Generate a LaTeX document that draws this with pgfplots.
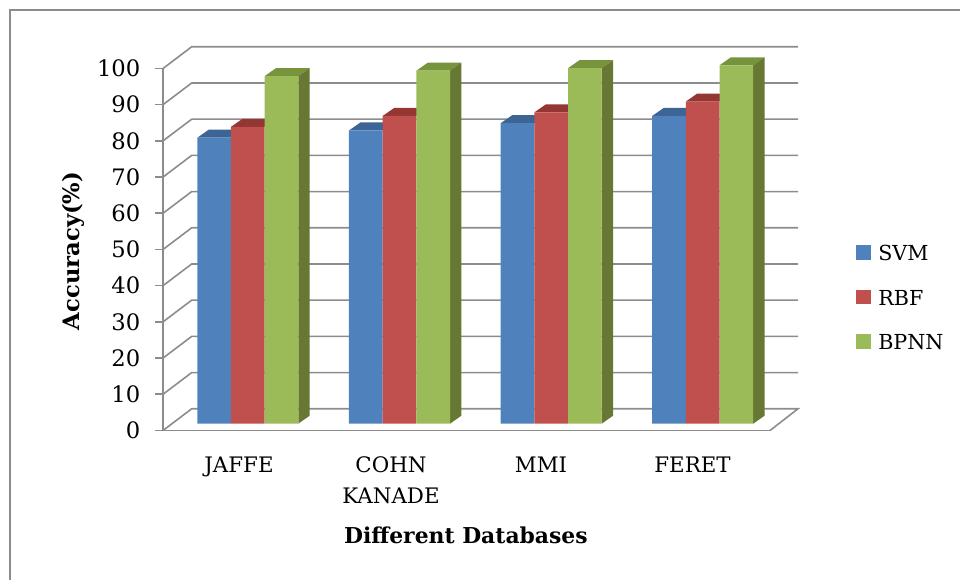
\documentclass[border=0pt]{standalone}
\usepackage{pgfplots}
\pgfplotsset{compat=1.18}
\usepackage{fontspec}
\setmainfont{DejaVu Serif}
\definecolor{svm}{HTML}{4F81BD}
\definecolor{svmtop}{HTML}{3C6494}
\definecolor{rbf}{HTML}{C0504D}
\definecolor{rbftop}{HTML}{943634}
\definecolor{bpnn}{HTML}{9BBB59}
\definecolor{bpnntop}{HTML}{77933C}
\definecolor{bpnnside}{HTML}{667833}
\definecolor{axisgray}{HTML}{8C8C8C}
\pgfplotsset{
  common/.style={
    scale only axis, width=455.25pt, height=271.5pt,
    at={(122.25pt,112.125pt)}, anchor=south west,
    xmin=163, xmax=770, clip=false,
  },
  face/.style={fill=#1, draw=none, forget plot},
  front/.style={ybar, bar shift=0pt, bar width=33.67, fill=#1, draw=none},
}
\begin{document}
\begin{tikzpicture}[x=1pt,y=1pt]
\useasboundingbox (0,0) rectangle (720pt,435pt);
\draw[axisgray, line width=1.5pt] (7.5pt,0pt) -- (7.5pt,427.5pt) -- (720pt,427.5pt);
% walls and floor
\begin{axis}[common,
  ymin=0, ymax=100,
  axis x line=bottom, axis y line=left,
  axis line style={-, draw=axisgray, line width=1.2pt},
  tick style={draw=axisgray, line width=1.2pt},
  ytick={0,10,...,100},
  tick align=outside, major tick length=6pt,
  xtick={239,391,541,692.5},
  xticklabels={JAFFE,COHN\\KANADE,MMI,FERET},
  xtick style={draw=none},
  xticklabel style={align=center, anchor=north, yshift=-10pt, font=\fontsize{16}{23.5}\selectfont},
  yticklabel style={anchor=east, xshift=-7.5pt, font=\fontsize{17}{18}\selectfont},
  /pgf/number format/assume math mode=true,
  every axis x label/.style={at={(axis description cs:0.499,-0.289)}, anchor=center},
  every axis y label/.style={at={(axis description cs:-0.148,0.496)}, anchor=center, rotate=90},
  xlabel={\fontsize{16.4}{18}\selectfont\bfseries Different Databases},
  ylabel={\fontsize{17}{18}\selectfont\bfseries Accuracy(\%)},
]
\addplot[axisgray, line width=1.2pt, forget plot] coordinates {(163,0)(191.7,6)(798,6)(770,0)};
\addplot[axisgray, line width=1.2pt, forget plot] coordinates {(163,10)(191.7,16)(798,16)};
\addplot[axisgray, line width=1.2pt, forget plot] coordinates {(163,20)(191.7,26)(798,26)};
\addplot[axisgray, line width=1.2pt, forget plot] coordinates {(163,30)(191.7,36)(798,36)};
\addplot[axisgray, line width=1.2pt, forget plot] coordinates {(163,40)(191.7,46)(798,46)};
\addplot[axisgray, line width=1.2pt, forget plot] coordinates {(163,50)(191.7,56)(798,56)};
\addplot[axisgray, line width=1.2pt, forget plot] coordinates {(163,60)(191.7,66)(798,66)};
\addplot[axisgray, line width=1.2pt, forget plot] coordinates {(163,70)(191.7,76)(798,76)};
\addplot[axisgray, line width=1.2pt, forget plot] coordinates {(163,80)(191.7,86)(798,86)};
\addplot[axisgray, line width=1.2pt, forget plot] coordinates {(163,90)(191.7,96)(798,96)};
\addplot[axisgray, line width=1.2pt, forget plot] coordinates {(163,100)(191.7,106)(798,106)};
\end{axis}
% bars: same scale, zero lies on the bars' own plane
\begin{axis}[common,
  ymin=-1.88, ymax=98.12,
  hide axis,
  legend style={at={(axis description cs:1.1417,0.362)}, anchor=west, draw=none, fill=none,
    inner sep=0pt, row sep=18.4pt, column sep=5.5pt,
    nodes={inner sep=0pt, text height=11pt, text depth=3pt, anchor=west},
    font=\fontsize{15.5}{18}\selectfont},
  legend cell align=left,
  legend image code/.code={\fill[#1] (0pt,-3.1pt) rectangle (11pt,7.9pt);},
]
% tops
\addplot[face=svmtop] coordinates {(197.3,79)(231,79)(242.4,81.21)(208.7,81.21)} -- cycle;
\addplot[face=rbftop] coordinates {(231,82)(264.6,82)(276,84.21)(242.4,84.21)} -- cycle;
\addplot[face=bpnntop] coordinates {(264.6,96)(298.3,96)(309.7,98.21)(276,98.21)} -- cycle;
\addplot[face=bpnnside] coordinates {(298.3,0)(309.7,2.21)(309.7,98.21)(298.3,96)} -- cycle;
\addplot[face=svmtop] coordinates {(349,81)(382.7,81)(394.1,83.21)(360.4,83.21)} -- cycle;
\addplot[face=rbftop] coordinates {(382.7,85)(416.3,85)(427.7,87.21)(394.1,87.21)} -- cycle;
\addplot[face=bpnntop] coordinates {(416.3,97.5)(450,97.5)(461.4,99.71)(427.7,99.71)} -- cycle;
\addplot[face=bpnnside] coordinates {(450,0)(461.4,2.21)(461.4,99.71)(450,97.5)} -- cycle;
\addplot[face=svmtop] coordinates {(500.7,83)(534.4,83)(545.8,85.21)(512.1,85.21)} -- cycle;
\addplot[face=rbftop] coordinates {(534.4,86)(568,86)(579.4,88.21)(545.8,88.21)} -- cycle;
\addplot[face=bpnntop] coordinates {(568,98.2)(601.7,98.2)(613.1,100.41)(579.4,100.41)} -- cycle;
\addplot[face=bpnnside] coordinates {(601.7,0)(613.1,2.21)(613.1,100.41)(601.7,98.2)} -- cycle;
\addplot[face=svmtop] coordinates {(652.2,85)(685.9,85)(697.3,87.21)(663.6,87.21)} -- cycle;
\addplot[face=rbftop] coordinates {(685.9,89)(719.5,89)(730.9,91.21)(697.3,91.21)} -- cycle;
\addplot[face=bpnntop] coordinates {(719.5,99)(753.2,99)(764.6,101.21)(730.9,101.21)} -- cycle;
\addplot[face=bpnnside] coordinates {(753.2,0)(764.6,2.21)(764.6,101.21)(753.2,99)} -- cycle;
% fronts
\addplot[front=svm] coordinates {(214.13,79)(365.83,81)(517.53,83)(669.03,85)};
\addlegendentry{SVM}
\addplot[front=rbf] coordinates {(247.8,82)(399.5,85)(551.2,86)(702.7,89)};
\addlegendentry{RBF}
\addplot[front=bpnn] coordinates {(281.47,96)(433.17,97.5)(584.87,98.2)(736.37,99)};
\addlegendentry{BPNN}
\end{axis}
\end{tikzpicture}
\end{document}
